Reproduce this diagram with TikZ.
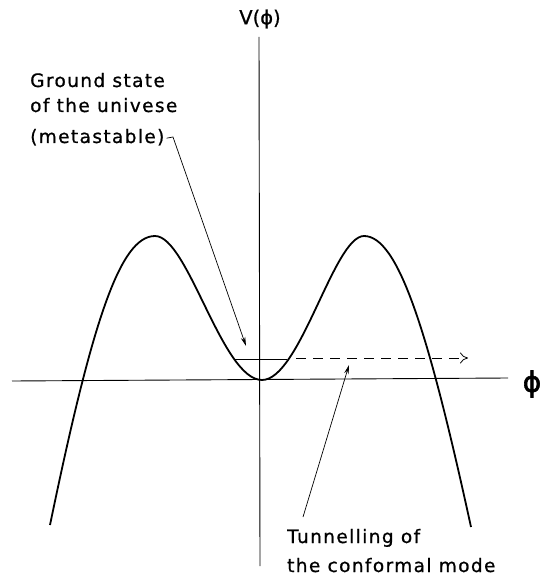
\documentclass[tikz,border=0pt]{standalone}
\usepackage{fontspec}
\usetikzlibrary{arrows.meta}
\newfontfamily\labfont{DejaVu Sans}[LetterSpace=7.5,FakeBold=0.8]
\newfontfamily\symfont{DejaVu Sans}[FakeBold=0.8]
\newfontfamily\bigsymfont{DejaVu Sans}[FakeBold=2.2]
\begin{document}
\begin{tikzpicture}[x=1pt,y=-1pt,
  axis/.style={line width=0.9pt},
  curve/.style={line width=1.8pt, line join=round},
  pointer/.style={line width=0.7pt, -{Stealth[length=9pt,width=4.5pt]}},
  lab/.style={font=\labfont\fontsize{18.5}{27}\selectfont, inner sep=0pt, anchor=base west}]
\useasboundingbox (0,0) rectangle (541,577);
% axes
\coordinate (xl) at (12,381);
\coordinate (xr) at (508,378);
\coordinate (yt) at (259,37);
\coordinate (yb) at (260,566);
\draw[axis] (xl) -- (xr);
\draw[axis] (yt) -- (yb);
\node[font=\symfont\fontsize{19.5}{22}\selectfont, inner sep=0pt] (vlab) at (260,19) {V(ϕ)};
\node[font=\bigsymfont\fontsize{28}{30}\selectfont, inner sep=0pt] (philab) at (532,384) {ϕ};
% potential
\draw[curve] (50,525) .. controls (92,322) and (120,236) .. (155,236)
  .. controls (188,236) and (222,380) .. (262,380)
  .. controls (300,380) and (334,236) .. (364,236)
  .. controls (398,236) and (428,330) .. (471,527);
% level
\coordinate (lvl) at (235,359);
\coordinate (lvr) at (287,359);
\draw[line width=0.8pt] (lvl) -- (lvr);
\coordinate (ds) at (296,358);
\coordinate (de) at (468,358);
\draw[line width=0.8pt, dash pattern=on 10pt off 7pt, -{To[length=8pt,width=11pt]}] (ds) -- (de);
% labels
\node[lab] (gs1) at (30,87) {Ground state};
\node[lab] (gs2) at (30,112) {of the univese};
\node[lab] (gs3) at (30,143) {(metastable)};
\coordinate (hook) at (173,137);
\coordinate (gtip) at (246,346);
\draw[pointer] ([xshift=2pt,yshift=-1pt]gs3.east) -- (hook) -- (gtip);
\node[lab] (tn1) at (287,543) {Tunnelling of};
\node[lab] (tn2) at (287,572) {the conformal mode};
\coordinate (tstart) at (303,517);
\coordinate (ttip) at (349,365);
\draw[pointer] (tstart) -- (ttip);
\end{tikzpicture}
\end{document}
